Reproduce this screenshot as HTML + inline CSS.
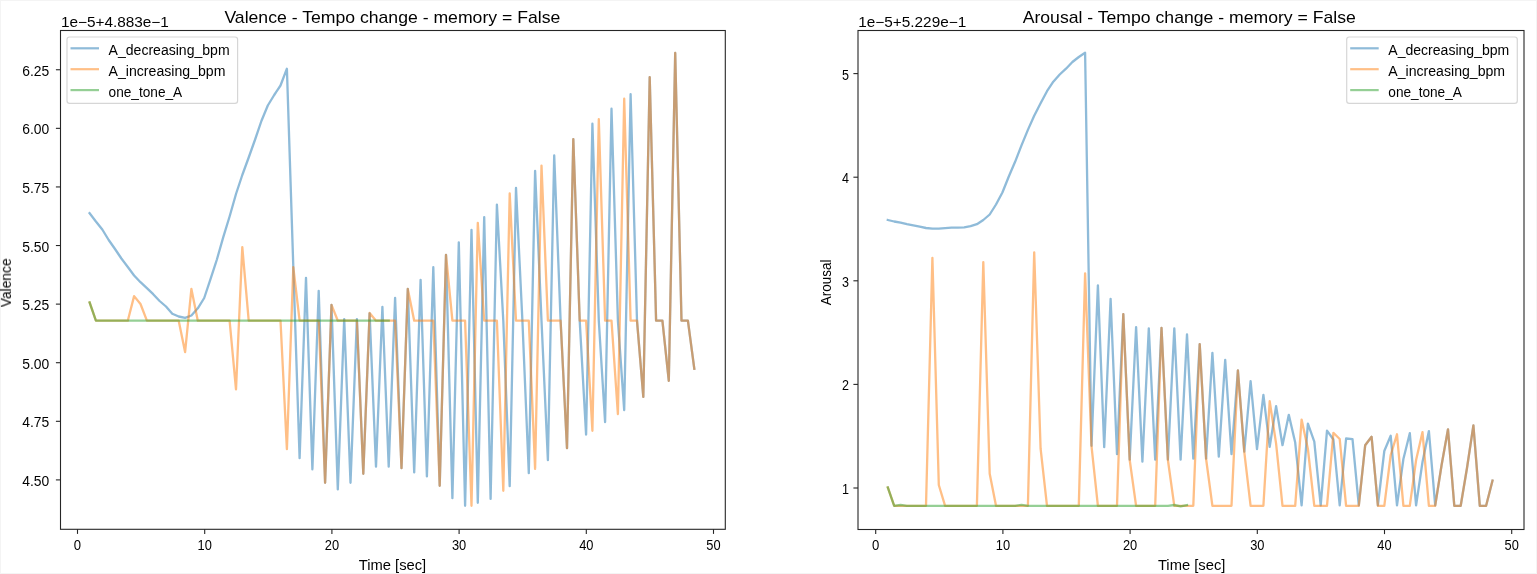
<!DOCTYPE html>
<html><head><meta charset="utf-8"><title>Tempo change</title>
<style>
html,body{margin:0;padding:0;background:#fff;}
body{width:1537px;height:574px;overflow:hidden;}
svg{display:block;}
text{font-family:"Liberation Sans",sans-serif;fill:#000;}
</style></head><body>
<svg width="1537" height="574" viewBox="0 0 1537 574">
<rect x="0" y="0" width="1537" height="574" fill="#fff"/>
<rect x="0.5" y="0.5" width="1536" height="573" fill="none" stroke="#f4f4f4" stroke-width="1"/>
<g opacity="0.999">
<g>
<polyline points="89.6,213.2 95.9,221.5 102.3,229.5 108.7,240.0 115.0,249.0 121.4,258.5 127.8,267.0 134.1,275.5 140.5,282.2 146.9,288.1 153.2,294.2 159.6,301.0 166.0,306.5 172.3,313.8 178.7,316.5 185.1,317.8 191.4,315.5 197.8,308.3 204.2,298.0 210.5,279.2 216.9,259.5 223.2,237.4 229.6,216.5 236.0,194.0 242.3,175.0 248.7,157.5 255.1,139.5 261.4,121.0 267.8,105.5 274.2,95.0 280.5,85.5 286.9,68.7 293.3,266.7 299.6,458.2 306.0,277.8 312.4,469.4 318.7,290.8 325.1,482.8 331.5,304.9 337.8,489.4 344.2,319.1 350.5,482.8 356.9,319.1 363.3,473.8 369.6,313.4 376.0,466.6 382.4,306.8 388.7,466.6 395.1,297.8 401.5,468.2 407.8,288.9 414.2,472.4 420.6,279.8 426.9,476.4 433.3,267.2 439.7,485.8 446.0,254.8 452.4,498.2 458.8,242.3 465.1,505.8 471.5,229.8 477.8,502.8 484.2,217.1 490.6,498.9 496.9,204.6 503.3,320.7 509.7,486.2 516.0,187.9 522.4,320.7 528.8,473.2 535.1,170.9 541.5,320.7 547.9,460.2 554.2,155.4 560.6,320.7 567.0,448.2 573.3,139.1 579.7,320.7 586.1,434.6 592.4,123.7 598.8,320.7 605.1,422.1 611.5,108.7 617.9,320.7 624.2,410.2 630.6,94.2 637.0,320.7 643.3,396.9 649.7,77.2 656.1,320.7 662.4,320.7 668.8,380.8 675.2,53.0 681.5,320.7 687.9,320.7 694.3,368.7" fill="none" stroke="#1f77b4" stroke-width="2.3" stroke-opacity="0.5" stroke-linejoin="round" stroke-linecap="square"/>
<polyline points="89.6,302.5 95.9,320.7 102.3,320.7 108.7,320.7 115.0,320.7 121.4,320.7 127.8,320.7 134.1,296.1 140.5,304.0 146.9,320.7 153.2,320.7 159.6,320.7 166.0,320.7 172.3,320.7 178.7,320.7 185.1,352.1 191.4,288.9 197.8,320.7 204.2,320.7 210.5,320.7 216.9,320.7 223.2,320.7 229.6,320.7 236.0,389.4 242.3,247.1 248.7,320.7 255.1,320.7 261.4,320.7 267.8,320.7 274.2,320.7 280.5,320.7 286.9,449.1 293.3,267.1 299.6,320.7 306.0,320.7 312.4,320.7 318.7,320.7 325.1,482.8 331.5,304.9 337.8,320.7 344.2,320.7 350.5,320.7 356.9,320.7 363.3,473.8 369.6,313.0 376.0,320.7 382.4,320.7 388.7,320.7 395.1,320.7 401.5,468.2 407.8,288.9 414.2,320.7 420.6,320.7 426.9,320.7 433.3,320.7 439.7,485.8 446.0,254.8 452.4,320.7 458.8,320.7 465.1,320.7 471.5,505.8 477.8,222.8 484.2,320.7 490.6,320.7 496.9,320.7 503.3,490.8 509.7,193.4 516.0,320.7 522.4,320.7 528.8,320.7 535.1,468.9 541.5,165.6 547.9,320.7 554.2,320.7 560.6,320.7 567.0,448.2 573.3,139.1 579.7,320.7 586.1,320.7 592.4,430.8 598.8,119.2 605.1,320.7 611.5,320.7 617.9,414.2 624.2,98.7 630.6,320.7 637.0,320.7 643.3,396.9 649.7,77.2 656.1,320.7 662.4,320.7 668.8,380.8 675.2,53.0 681.5,320.7 687.9,320.7 694.3,368.7" fill="none" stroke="#ff7f0e" stroke-width="2.3" stroke-opacity="0.5" stroke-linejoin="round" stroke-linecap="square"/>
<polyline points="89.6,302.5 95.9,320.7 102.3,320.7 108.7,320.7 115.0,320.7 121.4,320.7 127.8,320.7 134.1,320.7 140.5,320.7 146.9,320.7 153.2,320.7 159.6,320.7 166.0,320.7 172.3,320.7 178.7,320.7 185.1,320.7 191.4,320.7 197.8,320.7 204.2,320.7 210.5,320.7 216.9,320.7 223.2,320.7 229.6,320.7 236.0,320.7 242.3,320.7 248.7,320.7 255.1,320.7 261.4,320.7 267.8,320.7 274.2,320.7 280.5,320.7 286.9,320.7 293.3,320.7 299.6,320.7 306.0,320.7 312.4,320.7 318.7,320.7 325.1,320.7 331.5,320.7 337.8,320.7 344.2,320.7 350.5,320.7 356.9,320.7 363.3,320.7 369.6,320.7 376.0,320.7 382.4,320.7 388.7,320.7" fill="none" stroke="#2ca02c" stroke-width="2.3" stroke-opacity="0.5" stroke-linejoin="round" stroke-linecap="square"/>
</g>
<rect x="60.50" y="30.50" width="664.80" height="498.80" fill="none" stroke="#262626" stroke-width="1.1"/>
<line x1="77.50" y1="529.30" x2="77.50" y2="533.90" stroke="#262626" stroke-width="1.1"/>
<text x="73.85" y="549.90" font-size="14.00" textLength="7.30" lengthAdjust="spacingAndGlyphs">0</text>
<line x1="204.70" y1="529.30" x2="204.70" y2="533.90" stroke="#262626" stroke-width="1.1"/>
<text x="197.55" y="549.90" font-size="14.00" textLength="14.30" lengthAdjust="spacingAndGlyphs">10</text>
<line x1="331.90" y1="529.30" x2="331.90" y2="533.90" stroke="#262626" stroke-width="1.1"/>
<text x="324.75" y="549.90" font-size="14.00" textLength="14.30" lengthAdjust="spacingAndGlyphs">20</text>
<line x1="459.10" y1="529.30" x2="459.10" y2="533.90" stroke="#262626" stroke-width="1.1"/>
<text x="451.95" y="549.90" font-size="14.00" textLength="14.30" lengthAdjust="spacingAndGlyphs">30</text>
<line x1="586.30" y1="529.30" x2="586.30" y2="533.90" stroke="#262626" stroke-width="1.1"/>
<text x="579.15" y="549.90" font-size="14.00" textLength="14.30" lengthAdjust="spacingAndGlyphs">40</text>
<line x1="713.50" y1="529.30" x2="713.50" y2="533.90" stroke="#262626" stroke-width="1.1"/>
<text x="706.35" y="549.90" font-size="14.00" textLength="14.30" lengthAdjust="spacingAndGlyphs">50</text>
<line x1="55.90" y1="69.75" x2="60.50" y2="69.75" stroke="#262626" stroke-width="1.1"/>
<text x="22.20" y="75.75" font-size="14.00" textLength="27.00" lengthAdjust="spacingAndGlyphs">6.25</text>
<line x1="55.90" y1="128.34" x2="60.50" y2="128.34" stroke="#262626" stroke-width="1.1"/>
<text x="22.20" y="134.34" font-size="14.00" textLength="27.00" lengthAdjust="spacingAndGlyphs">6.00</text>
<line x1="55.90" y1="186.94" x2="60.50" y2="186.94" stroke="#262626" stroke-width="1.1"/>
<text x="22.20" y="192.94" font-size="14.00" textLength="27.00" lengthAdjust="spacingAndGlyphs">5.75</text>
<line x1="55.90" y1="245.53" x2="60.50" y2="245.53" stroke="#262626" stroke-width="1.1"/>
<text x="22.20" y="251.53" font-size="14.00" textLength="27.00" lengthAdjust="spacingAndGlyphs">5.50</text>
<line x1="55.90" y1="304.12" x2="60.50" y2="304.12" stroke="#262626" stroke-width="1.1"/>
<text x="22.20" y="310.12" font-size="14.00" textLength="27.00" lengthAdjust="spacingAndGlyphs">5.25</text>
<line x1="55.90" y1="362.71" x2="60.50" y2="362.71" stroke="#262626" stroke-width="1.1"/>
<text x="22.20" y="368.71" font-size="14.00" textLength="27.00" lengthAdjust="spacingAndGlyphs">5.00</text>
<line x1="55.90" y1="421.31" x2="60.50" y2="421.31" stroke="#262626" stroke-width="1.1"/>
<text x="22.20" y="427.31" font-size="14.00" textLength="27.00" lengthAdjust="spacingAndGlyphs">4.75</text>
<line x1="55.90" y1="479.90" x2="60.50" y2="479.90" stroke="#262626" stroke-width="1.1"/>
<text x="22.20" y="485.90" font-size="14.00" textLength="27.00" lengthAdjust="spacingAndGlyphs">4.50</text>
<text x="224.40" y="23.00" font-size="17.00" textLength="335.90" lengthAdjust="spacingAndGlyphs">Valence - Tempo change - memory = False</text>
<text x="60.90" y="27.10" font-size="14.00" textLength="107.90" lengthAdjust="spacingAndGlyphs">1e−5+4.883e−1</text>
<text x="358.70" y="569.60" font-size="14.00" textLength="67.50" lengthAdjust="spacingAndGlyphs">Time [sec]</text>
<text x="11.20" y="307.30" font-size="14.00" textLength="48.90" lengthAdjust="spacingAndGlyphs" transform="rotate(-90 11.20 307.30)">Valence</text>
<rect x="67.00" y="37.0" width="170.6" height="66.4" rx="2.6" fill="#fff" fill-opacity="0.8" stroke="#ccc" stroke-opacity="0.8" stroke-width="1.2"/>
<line x1="70.50" y1="48.30" x2="99.00" y2="48.30" stroke="#1f77b4" stroke-width="2.2" stroke-opacity="0.5"/>
<text x="108.60" y="54.70" font-size="14.00" textLength="121.00" lengthAdjust="spacingAndGlyphs">A_decreasing_bpm</text>
<line x1="70.50" y1="69.20" x2="99.00" y2="69.20" stroke="#ff7f0e" stroke-width="2.2" stroke-opacity="0.5"/>
<text x="108.60" y="75.60" font-size="14.00" textLength="116.80" lengthAdjust="spacingAndGlyphs">A_increasing_bpm</text>
<line x1="70.50" y1="90.10" x2="99.00" y2="90.10" stroke="#2ca02c" stroke-width="2.2" stroke-opacity="0.5"/>
<text x="108.60" y="96.50" font-size="14.00" textLength="73.60" lengthAdjust="spacingAndGlyphs">one_tone_A</text>
<g>
<polyline points="887.8,220.0 894.2,221.5 900.6,222.7 906.9,224.2 913.3,225.4 919.7,226.7 926.0,228.0 932.4,228.7 938.8,228.7 945.1,228.2 951.5,227.7 957.8,227.7 964.2,227.4 970.6,226.2 976.9,224.2 983.3,220.0 989.7,214.5 996.0,204.5 1002.4,192.5 1008.8,176.5 1015.1,161.8 1021.5,145.4 1027.9,129.9 1034.2,115.7 1040.6,103.2 1047.0,91.2 1053.3,81.7 1059.7,74.5 1066.0,68.7 1072.4,62.0 1078.8,57.0 1085.1,52.8 1091.5,445.8 1097.9,285.3 1104.2,447.1 1110.6,298.8 1117.0,454.1 1123.3,314.1 1129.7,459.6 1136.1,327.1 1142.4,461.6 1148.8,328.4 1155.2,459.6 1161.5,327.9 1167.9,459.6 1174.3,328.4 1180.6,459.6 1187.0,334.4 1193.3,458.6 1199.7,344.1 1206.1,458.6 1212.4,352.9 1218.8,456.7 1225.2,359.9 1231.5,454.2 1237.9,370.4 1244.3,451.7 1250.6,381.1 1257.0,449.1 1263.4,394.8 1269.7,446.9 1276.1,406.1 1282.5,445.2 1288.8,414.8 1295.2,442.6 1301.6,505.4 1307.9,423.6 1314.3,441.6 1320.7,505.4 1327.0,430.6 1333.4,439.5 1339.7,505.4 1346.1,438.5 1352.5,439.1 1358.8,505.4 1365.2,445.2 1371.6,436.8 1377.9,505.4 1384.3,451.0 1390.7,435.8 1397.0,505.4 1403.4,459.0 1409.8,433.2 1416.1,505.4 1422.5,462.0 1428.9,431.1 1435.2,505.4 1441.6,465.0 1448.0,429.3 1454.3,505.8 1460.7,505.8 1467.0,468.0 1473.4,425.3 1479.8,505.8 1486.1,505.8 1492.5,480.6" fill="none" stroke="#1f77b4" stroke-width="2.3" stroke-opacity="0.5" stroke-linejoin="round" stroke-linecap="square"/>
<polyline points="887.8,487.5 894.2,505.8 900.6,505.8 906.9,505.8 913.3,505.8 919.7,505.8 926.0,505.8 932.4,257.8 938.8,485.0 945.1,505.8 951.5,505.8 957.8,505.8 964.2,505.8 970.6,505.8 976.9,505.8 983.3,262.1 989.7,473.7 996.0,505.8 1002.4,505.8 1008.8,505.8 1015.1,505.8 1021.5,505.8 1027.9,505.8 1034.2,252.3 1040.6,448.7 1047.0,505.8 1053.3,505.8 1059.7,505.8 1066.0,505.8 1072.4,505.8 1078.8,505.8 1085.1,273.3 1091.5,446.2 1097.9,505.8 1104.2,505.8 1110.6,505.8 1117.0,505.8 1123.3,314.1 1129.7,460.0 1136.1,505.8 1142.4,505.8 1148.8,505.8 1155.2,505.8 1161.5,327.9 1167.9,460.0 1174.3,505.8 1180.6,505.8 1187.0,505.8 1193.3,505.8 1199.7,344.1 1206.1,459.0 1212.4,505.8 1218.8,505.8 1225.2,505.8 1231.5,505.8 1237.9,370.4 1244.3,452.1 1250.6,505.8 1257.0,505.8 1263.4,505.8 1269.7,401.1 1276.1,443.7 1282.5,505.8 1288.8,505.8 1295.2,505.8 1301.6,419.6 1307.9,449.0 1314.3,505.8 1320.7,505.8 1327.0,505.8 1333.4,432.8 1339.7,439.0 1346.1,505.8 1352.5,505.8 1358.8,505.8 1365.2,445.2 1371.6,436.8 1377.9,505.8 1384.3,505.8 1390.7,455.0 1397.0,434.3 1403.4,505.8 1409.8,505.8 1416.1,460.0 1422.5,432.1 1428.9,505.8 1435.2,505.8 1441.6,465.0 1448.0,429.3 1454.3,505.8 1460.7,505.8 1467.0,468.0 1473.4,425.3 1479.8,505.8 1486.1,505.8 1492.5,480.6" fill="none" stroke="#ff7f0e" stroke-width="2.3" stroke-opacity="0.5" stroke-linejoin="round" stroke-linecap="square"/>
<polyline points="887.8,487.5 894.2,505.8 900.6,505.0 906.9,505.8 913.3,505.8 919.7,505.8 926.0,505.8 932.4,505.8 938.8,505.8 945.1,505.8 951.5,505.8 957.8,505.8 964.2,505.8 970.6,505.8 976.9,505.8 983.3,505.8 989.7,505.8 996.0,505.8 1002.4,505.8 1008.8,505.8 1015.1,505.8 1021.5,504.9 1027.9,505.8 1034.2,505.8 1040.6,505.8 1047.0,505.8 1053.3,505.8 1059.7,505.8 1066.0,505.8 1072.4,505.8 1078.8,505.8 1085.1,505.8 1091.5,505.8 1097.9,505.8 1104.2,505.8 1110.6,505.8 1117.0,505.8 1123.3,505.8 1129.7,505.8 1136.1,505.8 1142.4,505.8 1148.8,505.8 1155.2,505.8 1161.5,505.8 1167.9,505.8 1174.3,505.0 1180.6,506.3 1187.0,505.0" fill="none" stroke="#2ca02c" stroke-width="2.3" stroke-opacity="0.5" stroke-linejoin="round" stroke-linecap="square"/>
</g>
<rect x="858.00" y="30.50" width="666.00" height="499.00" fill="none" stroke="#262626" stroke-width="1.1"/>
<line x1="875.70" y1="529.50" x2="875.70" y2="534.10" stroke="#262626" stroke-width="1.1"/>
<text x="872.05" y="549.90" font-size="14.00" textLength="7.30" lengthAdjust="spacingAndGlyphs">0</text>
<line x1="1002.90" y1="529.50" x2="1002.90" y2="534.10" stroke="#262626" stroke-width="1.1"/>
<text x="995.75" y="549.90" font-size="14.00" textLength="14.30" lengthAdjust="spacingAndGlyphs">10</text>
<line x1="1130.10" y1="529.50" x2="1130.10" y2="534.10" stroke="#262626" stroke-width="1.1"/>
<text x="1122.95" y="549.90" font-size="14.00" textLength="14.30" lengthAdjust="spacingAndGlyphs">20</text>
<line x1="1257.30" y1="529.50" x2="1257.30" y2="534.10" stroke="#262626" stroke-width="1.1"/>
<text x="1250.15" y="549.90" font-size="14.00" textLength="14.30" lengthAdjust="spacingAndGlyphs">30</text>
<line x1="1384.50" y1="529.50" x2="1384.50" y2="534.10" stroke="#262626" stroke-width="1.1"/>
<text x="1377.35" y="549.90" font-size="14.00" textLength="14.30" lengthAdjust="spacingAndGlyphs">40</text>
<line x1="1511.70" y1="529.50" x2="1511.70" y2="534.10" stroke="#262626" stroke-width="1.1"/>
<text x="1504.55" y="549.90" font-size="14.00" textLength="14.30" lengthAdjust="spacingAndGlyphs">50</text>
<line x1="853.40" y1="73.60" x2="858.00" y2="73.60" stroke="#262626" stroke-width="1.1"/>
<text x="841.90" y="79.60" font-size="14.00" textLength="7.00" lengthAdjust="spacingAndGlyphs">5</text>
<line x1="853.40" y1="177.20" x2="858.00" y2="177.20" stroke="#262626" stroke-width="1.1"/>
<text x="841.90" y="183.20" font-size="14.00" textLength="7.00" lengthAdjust="spacingAndGlyphs">4</text>
<line x1="853.40" y1="280.80" x2="858.00" y2="280.80" stroke="#262626" stroke-width="1.1"/>
<text x="841.90" y="286.80" font-size="14.00" textLength="7.00" lengthAdjust="spacingAndGlyphs">3</text>
<line x1="853.40" y1="384.40" x2="858.00" y2="384.40" stroke="#262626" stroke-width="1.1"/>
<text x="841.90" y="390.40" font-size="14.00" textLength="7.00" lengthAdjust="spacingAndGlyphs">2</text>
<line x1="853.40" y1="488.00" x2="858.00" y2="488.00" stroke="#262626" stroke-width="1.1"/>
<text x="841.90" y="494.00" font-size="14.00" textLength="7.00" lengthAdjust="spacingAndGlyphs">1</text>
<text x="1022.70" y="23.00" font-size="17.00" textLength="333.10" lengthAdjust="spacingAndGlyphs">Arousal - Tempo change - memory = False</text>
<text x="858.30" y="27.10" font-size="14.00" textLength="107.90" lengthAdjust="spacingAndGlyphs">1e−5+5.229e−1</text>
<text x="1157.90" y="569.60" font-size="14.00" textLength="67.50" lengthAdjust="spacingAndGlyphs">Time [sec]</text>
<text x="830.70" y="305.20" font-size="14.00" textLength="45.70" lengthAdjust="spacingAndGlyphs" transform="rotate(-90 830.70 305.20)">Arousal</text>
<rect x="1346.70" y="37.0" width="170.6" height="66.4" rx="2.6" fill="#fff" fill-opacity="0.8" stroke="#ccc" stroke-opacity="0.8" stroke-width="1.2"/>
<line x1="1350.20" y1="48.30" x2="1378.70" y2="48.30" stroke="#1f77b4" stroke-width="2.2" stroke-opacity="0.5"/>
<text x="1388.30" y="54.70" font-size="14.00" textLength="121.00" lengthAdjust="spacingAndGlyphs">A_decreasing_bpm</text>
<line x1="1350.20" y1="69.20" x2="1378.70" y2="69.20" stroke="#ff7f0e" stroke-width="2.2" stroke-opacity="0.5"/>
<text x="1388.30" y="75.60" font-size="14.00" textLength="116.80" lengthAdjust="spacingAndGlyphs">A_increasing_bpm</text>
<line x1="1350.20" y1="90.10" x2="1378.70" y2="90.10" stroke="#2ca02c" stroke-width="2.2" stroke-opacity="0.5"/>
<text x="1388.30" y="96.50" font-size="14.00" textLength="73.60" lengthAdjust="spacingAndGlyphs">one_tone_A</text>
</g>
</svg>
</body></html>
